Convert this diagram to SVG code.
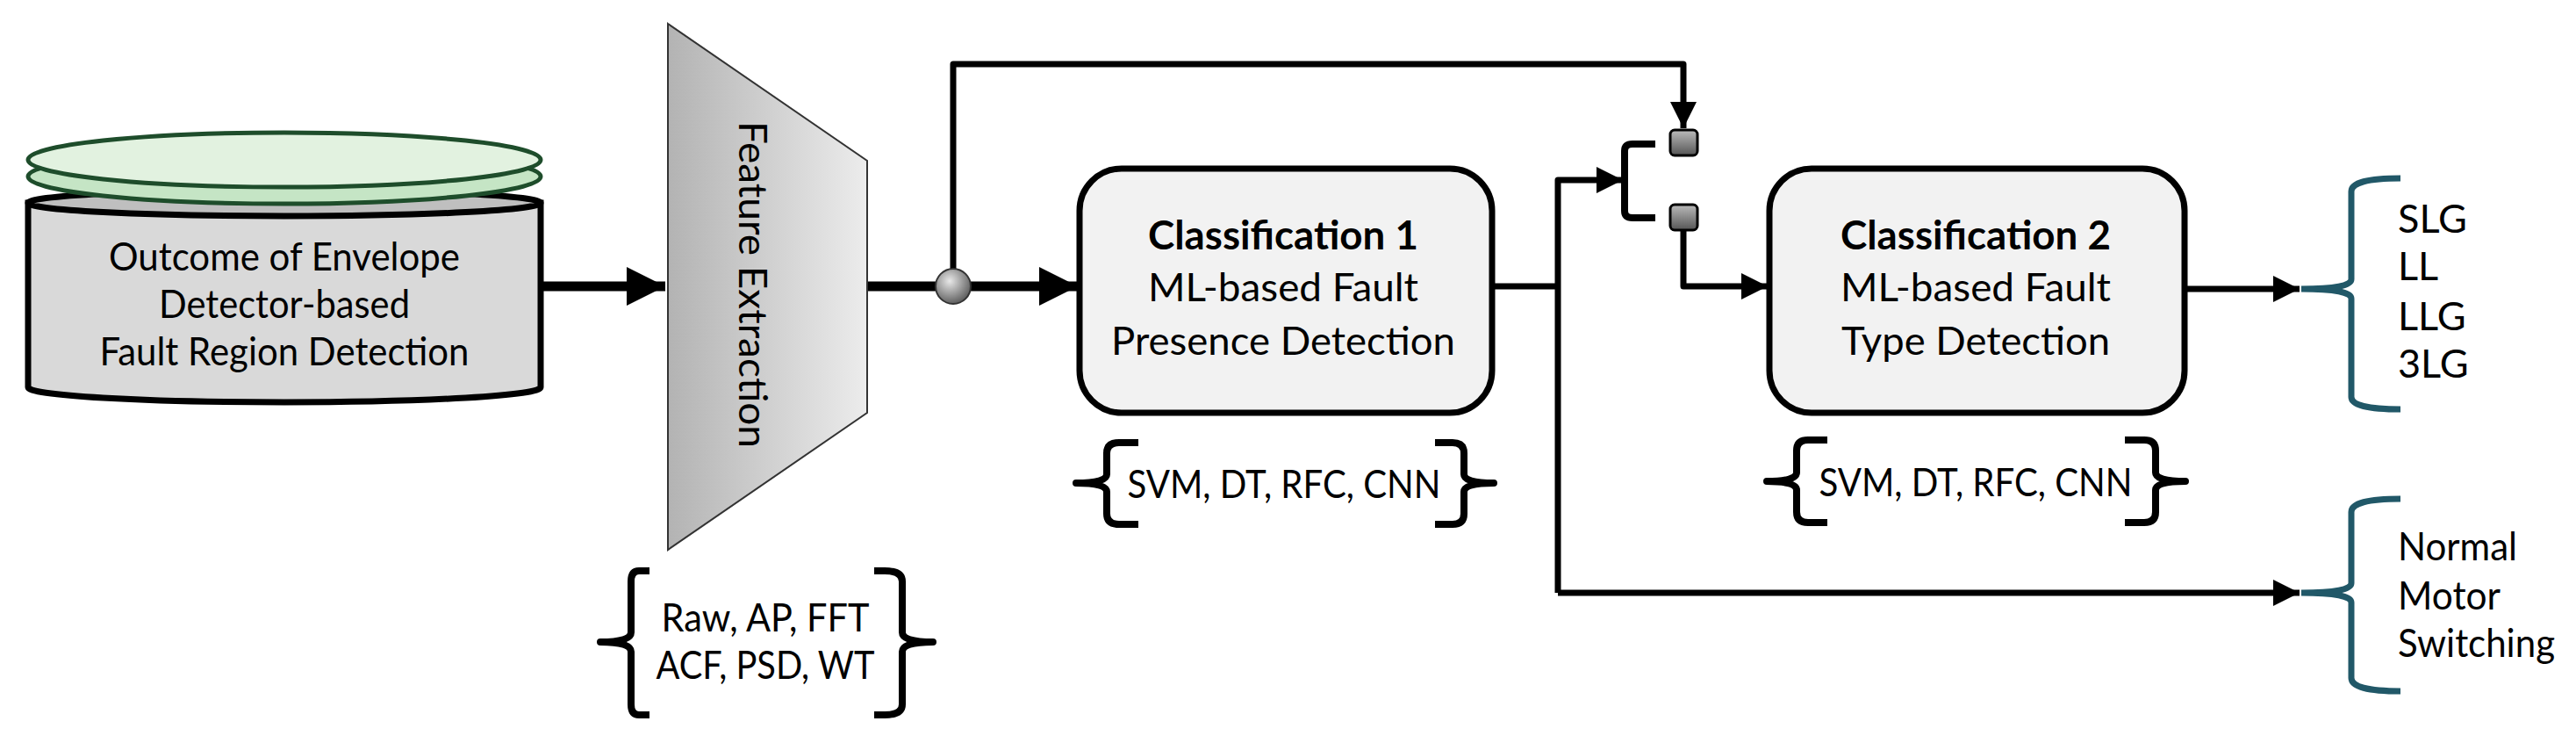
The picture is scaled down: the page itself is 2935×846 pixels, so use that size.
<svg xmlns="http://www.w3.org/2000/svg" width="2935" height="846" viewBox="0 0 2935 846">
<style>
text{font-family:Lato,"Open Sans","Liberation Sans",sans-serif;font-size:45px;fill:#000;text-anchor:middle;dominant-baseline:central}
.b{font-weight:bold}
.st{text-anchor:start}
.box{fill:#f2f2f2;stroke:#000;stroke-width:7}
.br{fill:none;stroke:#000;stroke-width:8;stroke-linejoin:round}
.bb{fill:none;stroke:#215868;stroke-width:7}
.thick{fill:none;stroke:#000;stroke-width:11}
.thin{fill:none;stroke:#000;stroke-width:7;stroke-linejoin:round}
</style>
<defs>
<linearGradient id="tg" x1="0" x2="1" y1="0" y2="0"><stop offset="0" stop-color="#b3b3b3"/><stop offset="1" stop-color="#ececec"/></linearGradient>
<radialGradient id="cg" cx="0.4" cy="0.35" r="0.7"><stop offset="0" stop-color="#e8e8e8"/><stop offset="1" stop-color="#555"/></radialGradient>
<linearGradient id="sg" x1="0" x2="0" y1="0" y2="1"><stop offset="0" stop-color="#bbb"/><stop offset="1" stop-color="#555"/></linearGradient>
<marker id="ah" markerUnits="userSpaceOnUse" markerWidth="60" markerHeight="50" refX="44" refY="22" orient="auto"><path d="M0,0 L44,22 L0,44 Z" fill="#000"/></marker>
<marker id="as" markerUnits="userSpaceOnUse" markerWidth="40" markerHeight="40" refX="30" refY="15" orient="auto"><path d="M0,0 L30,15 L0,30 Z" fill="#000"/></marker>
</defs>
<g id="connectors">
<path class="thick" d="M616,326 L758,326" marker-end="url(#ah)"/>
<path class="thick" d="M988,326 L1086,326"/>
<path class="thick" d="M1086,326 L1228,326" marker-end="url(#ah)"/>
<path class="thin" d="M1086,326 L1086,73 L1918,73 L1918,146" marker-end="url(#as)"/>
<path class="thin" d="M1700,326 L1775,326"/>
<path class="thin" d="M1775,675 L1775,205 L1849,205" marker-end="url(#as)"/>
<path class="thin" d="M1775,675 L2620,675" marker-end="url(#as)"/>
<path class="thin" d="M1918,262 L1918,326 L2014,326" marker-end="url(#as)"/>
<path class="thin" d="M2489,329 L2620,329" marker-end="url(#as)"/>
</g>
<g id="database">
<path d="M32,231 L32,441 A292,17 0 0 0 616,441 L616,231 Z" fill="#d9d9d9" stroke="#000" stroke-width="7"/>
<ellipse cx="324" cy="231" rx="292" ry="15" fill="#bfbfbf" stroke="#000" stroke-width="7"/>
<ellipse cx="324" cy="201" rx="292" ry="31" fill="#c5e5c5" stroke="#1e4d2b" stroke-width="5"/>
<ellipse cx="324" cy="182" rx="292" ry="31" fill="#e2f2e0" stroke="#1e4d2b" stroke-width="5"/>
<text x="324" y="291" textLength="400" lengthAdjust="spacingAndGlyphs">Outcome of Envelope</text>
<text x="324" y="345" textLength="286" lengthAdjust="spacingAndGlyphs">Detector-based</text>
<text x="324" y="399" textLength="421" lengthAdjust="spacingAndGlyphs">Fault Region Detection</text>
</g>
<g id="feature-extraction">
<polygon points="761,27 988,183 988,470 761,626" fill="url(#tg)" stroke="#333" stroke-width="2"/>
<text transform="translate(859,324) rotate(90)" textLength="372" lengthAdjust="spacingAndGlyphs">Feature Extraction</text>
</g>
<g id="features">
<path class="br" d="M740,650 L728,650 Q719,650 719,662 L719,720 Q719,731 684,731 Q719,731 719,742 L719,802 Q719,814 728,814 L740,814"/>
<path class="br" d="M996,650 L1008,650 Q1028,650 1028,662 L1028,720 Q1028,731 1063,731 Q1028,731 1028,742 L1028,802 Q1028,814 1008,814 L996,814"/>
<text x="872" y="702" textLength="237" lengthAdjust="spacingAndGlyphs">Raw, AP, FFT</text>
<text x="872" y="756" textLength="249" lengthAdjust="spacingAndGlyphs">ACF, PSD, WT</text>
</g>
<g id="junction"><circle cx="1086" cy="326" r="20" fill="url(#cg)" stroke="#333" stroke-width="2"/></g>
<g id="classification1">
<rect class="box" x="1230" y="192" width="470" height="278" rx="48"/>
<text class="b" x="1462" y="267" textLength="308" lengthAdjust="spacingAndGlyphs">Classification 1</text>
<text x="1462" y="326" textLength="308" lengthAdjust="spacingAndGlyphs">ML-based Fault</text>
<text x="1462" y="387" textLength="392" lengthAdjust="spacingAndGlyphs">Presence Detection</text>
</g>
<g id="models1">
<path class="br" d="M1297,504 L1275,504 Q1261,504 1261,516 L1261,540 Q1261,550 1226,550 Q1261,550 1261,560 L1261,585 Q1261,597 1275,597 L1297,597"/>
<path class="br" d="M1635,504 L1655,504 Q1668,504 1668,516 L1668,540 Q1668,550 1702,550 Q1668,550 1668,560 L1668,585 Q1668,597 1655,597 L1635,597"/>
<text x="1463" y="550" textLength="357" lengthAdjust="spacingAndGlyphs">SVM, DT, RFC, CNN</text>
</g>
<g id="switch">
<path class="br" d="M1886,164 L1860,164 Q1851,164 1851,172 L1851,240 Q1851,248 1860,248 L1886,248"/>
<rect x="1903" y="148" width="31" height="29" rx="5" fill="url(#sg)" stroke="#000" stroke-width="3"/>
<rect x="1903" y="233" width="31" height="29" rx="5" fill="url(#sg)" stroke="#000" stroke-width="3"/>
</g>
<g id="classification2">
<rect class="box" x="2016" y="192" width="473" height="278" rx="48"/>
<text class="b" x="2251" y="267" textLength="308" lengthAdjust="spacingAndGlyphs">Classification 2</text>
<text x="2251" y="326" textLength="308" lengthAdjust="spacingAndGlyphs">ML-based Fault</text>
<text x="2251" y="387" textLength="306" lengthAdjust="spacingAndGlyphs">Type Detection</text>
</g>
<g id="models2">
<path class="br" d="M2082,501 L2060,501 Q2047,501 2047,513 L2047,538 Q2047,548 2013,548 Q2047,548 2047,558 L2047,583 Q2047,595 2060,595 L2082,595"/>
<path class="br" d="M2421,501 L2443,501 Q2456,501 2456,513 L2456,538 Q2456,548 2490,548 Q2456,548 2456,558 L2456,583 Q2456,595 2443,595 L2421,595"/>
<text x="2251" y="548" textLength="357" lengthAdjust="spacingAndGlyphs">SVM, DT, RFC, CNN</text>
</g>
<g id="fault-types">
<path class="bb" d="M2735,203 Q2679,203 2679,218 L2679,318 Q2679,329 2622,329 Q2679,329 2679,340 L2679,452 Q2679,466 2735,466"/>
<text class="st" x="2732" y="248">SLG</text>
<text class="st" x="2732" y="302">LL</text>
<text class="st" x="2732" y="359">LLG</text>
<text class="st" x="2732" y="413">3LG</text>
</g>
<g id="normal">
<path class="bb" d="M2735,568 Q2679,568 2679,583 L2679,664 Q2679,675 2622,675 Q2679,675 2679,686 L2679,772 Q2679,787 2735,787"/>
<text class="st" x="2732" y="621" textLength="136" lengthAdjust="spacingAndGlyphs">Normal</text>
<text class="st" x="2732" y="677" textLength="117" lengthAdjust="spacingAndGlyphs">Motor</text>
<text class="st" x="2732" y="731" textLength="179" lengthAdjust="spacingAndGlyphs">Switching</text>
</g>
</svg>
